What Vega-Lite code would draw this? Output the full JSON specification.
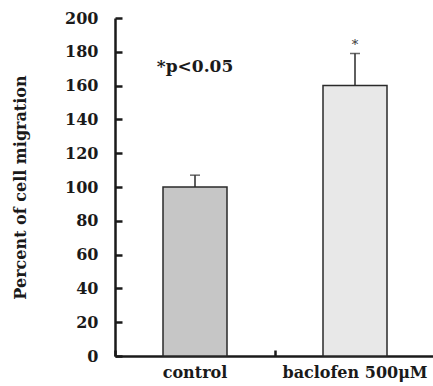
{
  "$schema": "https://vega.github.io/schema/vega-lite/v6.json",
  "width": 320,
  "height": 338,
  "autosize": "none",
  "padding": {"left": 115, "top": 18, "right": 0, "bottom": 30},
  "config": {
    "view": {"stroke": null},
    "font": "DejaVu Serif"
  },
  "data": {"values": [
    {"group": "control", "value": 100, "upper": 107, "star": "", "starY": 184},
    {"group": "baclofen 500μM", "value": 160, "upper": 179, "star": "*", "starY": 184}
  ]},
  "resolve": {"scale": {"y": "independent"}, "axis": {"x": "independent", "y": "independent"}},
  "layer": [
    {
      "mark": {"type": "bar", "size": 64, "stroke": "#2a2a2a", "strokeWidth": 1.5},
      "encoding": {
        "x": {"field": "group", "type": "nominal", "sort": null,
          "scale": {"paddingInner": 0, "paddingOuter": 0},
          "axis": {"orient": "bottom", "title": null, "labelAngle": 0, "ticks": false, "domain": true, "domainWidth": 2.5, "domainColor": "#1a1a1a",
            "labelFont": "DejaVu Serif", "labelFontWeight": "bold", "labelFontSize": 16, "labelColor": "#1a1a1a", "labelPadding": 8}},
        "y": {"field": "value", "type": "quantitative", "scale": {"domain": [0, 200]},
          "axis": {"orient": "left", "title": "Percent of cell migration", "values": [0,20,40,60,80,100,120,140,160,180,200],
            "labelOverlap": false, "ticks": false, "grid": false, "labelPadding": 17, "titlePadding": 36,
            "domainWidth": 2.5, "domainColor": "#1a1a1a",
            "labelFont": "DejaVu Serif", "labelFontWeight": "bold", "labelFontSize": 16, "labelColor": "#1a1a1a",
            "titleFont": "DejaVu Serif", "titleFontWeight": "bold", "titleFontSize": 16, "titleColor": "#1a1a1a"}},
        "fill": {"field": "group", "type": "nominal", "sort": null, "legend": null,
          "scale": {"domain": ["control", "baclofen 500μM"], "range": ["#c6c6c6", "#e8e8e8"]}}
      }
    },
    {
      "mark": {"type": "rule", "strokeWidth": 1.5, "color": "#2a2a2a"},
      "encoding": {
        "x": {"field": "group", "type": "nominal", "sort": null,
          "axis": {"orient": "top", "offset": -338, "title": null, "labels": false, "domain": false, "ticks": true, "bandPosition": 0, "tickSize": 6, "tickWidth": 2.5, "tickColor": "#1a1a1a"}},
        "y": {"field": "value", "type": "quantitative", "scale": {"domain": [0, 200]},
          "axis": {"orient": "right", "offset": -320, "title": null, "labels": false, "domain": false, "grid": false, "ticks": true, "tickSize": 7, "tickWidth": 2.5, "tickColor": "#1a1a1a",
            "tickCount": 10}},
        "y2": {"field": "upper"}
      }
    },
    {
      "mark": {"type": "tick", "size": 10, "thickness": 1.5, "color": "#2a2a2a"},
      "encoding": {
        "x": {"field": "group", "type": "nominal", "sort": null, "axis": null},
        "y": {"field": "upper", "type": "quantitative", "scale": {"domain": [0, 200]}, "axis": null}
      }
    },
    {
      "mark": {"type": "text", "fontSize": 13, "color": "#333", "baseline": "middle"},
      "encoding": {
        "x": {"field": "group", "type": "nominal", "sort": null, "axis": null},
        "y": {"field": "starY", "type": "quantitative", "scale": {"domain": [0, 200]}, "axis": null},
        "text": {"field": "star"}
      }
    },
    {
      "data": {"values": [{"group": "control", "y": 171, "label": "*p<0.05"}]},
      "mark": {"type": "text", "fontSize": 17, "fontWeight": "bold", "color": "#1a1a1a", "baseline": "middle"},
      "encoding": {
        "x": {"field": "group", "type": "nominal", "sort": null, "axis": null},
        "y": {"field": "y", "type": "quantitative", "scale": {"domain": [0, 200]}, "axis": null},
        "text": {"field": "label"}
      }
    }
  ]
}
